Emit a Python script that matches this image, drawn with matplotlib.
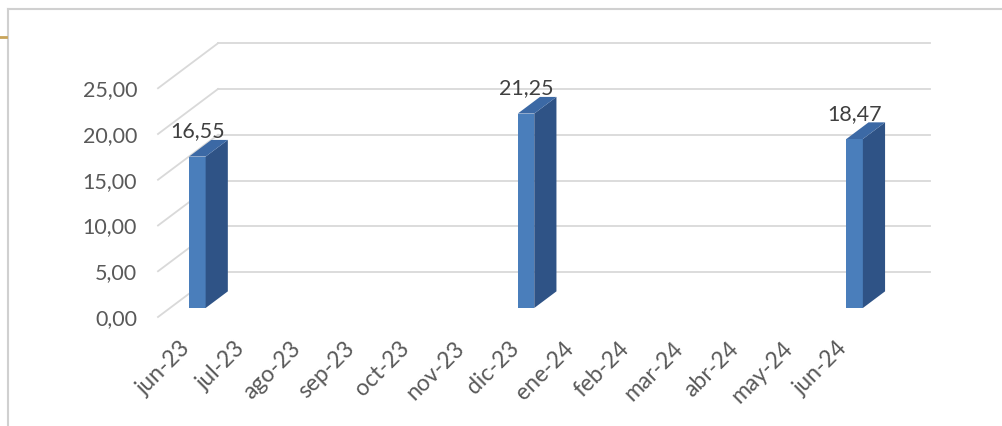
import matplotlib
matplotlib.use("Agg")
import matplotlib.pyplot as plt
from matplotlib.patches import Polygon
from matplotlib.lines import Line2D
from matplotlib.transforms import ScaledTranslation
import numpy as np

# ---- data ----
categories = ["jun-23", "jul-23", "ago-23", "sep-23", "oct-23", "nov-23", "dic-23",
              "ene-24", "feb-24", "mar-24", "abr-24", "may-24", "jun-24"]
values = [16.55, None, None, None, None, None, 21.25, None, None, None, None, None, 18.47]
y_ticks = [0, 5, 10, 15, 20, 25]
y_tick_labels = ["0,00", "5,00", "10,00", "15,00", "20,00", "25,00"]

def fmt(v):
    return f"{v:.2f}".replace(".", ",")

# ---- style ----
W, H = 1003, 426
FONT = ["Lato", "DejaVu Sans"]
plt.rcParams["font.family"] = FONT
FRONT = "#4a7ebb"
SIDE = "#2f5386"
TOP = "#3c69a5"
GRID = "#d9d9d9"
TXT = "#595959"

fig = plt.figure(figsize=(W / 100, H / 100), dpi=100)
fig.patch.set_facecolor("white")

# frame decorations
fig.add_artist(Line2D([8 / W, 1], [1 - 9 / H, 1 - 9 / H], color="#d0d0d0", lw=1.5))
fig.add_artist(Line2D([8 / W, 8 / W], [0, 1 - 9 / H], color="#d0d0d0", lw=1.5))
fig.add_artist(Line2D([0, 6 / W], [1 - 37 / H, 1 - 37 / H], color="#c8a45a", lw=2))

# front plane of the plot: px 158..870 horizontally, value 0 at y=317 px
PX_CAT = 712 / 13
PX_VAL = 9.15
ax = fig.add_axes([158 / W, (H - 317) / H, 712 / W, 25 * PX_VAL / H])
ax.set_xlim(-0.5, len(categories) - 0.5)
ax.set_ylim(0, 25)
ax.set_facecolor("none")
for s in ax.spines.values():
    s.set_visible(False)

# depth vector (front plane -> back wall) in data units
DX = 60 / PX_CAT
DY = 45 / PX_VAL

# back wall gridlines and left wall diagonals
x0, x1 = -0.5, len(categories) - 0.5
for v in y_ticks:
    ax.plot([x0 + DX, x1 + DX], [v + DY, v + DY], color=GRID, lw=1.3, clip_on=False, zorder=1)
    ax.plot([x0, x0 + DX], [v, v + DY], color=GRID, lw=1.3, clip_on=False, zorder=1)

# bars
d0, d1 = 0.2, 0.57
w = 16.5 / PX_CAT
ddx, ddy = (d1 - d0) * DX, (d1 - d0) * DY
idx = [i for i, v in enumerate(values) if v is not None]
vals = [values[i] for i in idx]
xc = np.array(idx) + d0 * DX
base = d0 * DY
ax.bar(xc, vals, width=w, bottom=base, color=FRONT, edgecolor="none", zorder=3, clip_on=False)
for x, v in zip(xc, vals):
    top = base + v
    xr = x + w / 2
    xl = x - w / 2
    ax.add_patch(Polygon([(xr, base), (xr + ddx, base + ddy), (xr + ddx, top + ddy), (xr, top)],
                         closed=True, facecolor=SIDE, edgecolor="none", zorder=3, clip_on=False))
    ax.add_patch(Polygon([(xl, top), (xl + ddx, top + ddy), (xr + ddx, top + ddy), (xr, top)],
                         closed=True, facecolor=TOP, edgecolor="none", zorder=3, clip_on=False))
    ax.annotate(fmt(v), (x, top), xytext=(0, 18), textcoords="offset points",
                ha="center", va="center", fontsize=15.5, color="#404040", zorder=5,
                annotation_clip=False)

# y tick labels
ax.set_yticks(y_ticks)
ax.set_yticklabels(y_tick_labels, fontsize=15.5, color=TXT)
ax.tick_params(axis="y", length=0, pad=15)

# x tick labels (rotated, at the front plane)
ax.set_xticks(range(len(categories)))
ax.set_xticklabels(categories, fontsize=16.5, color=TXT, rotation=45, ha="right",
                   rotation_mode="anchor")
ax.tick_params(axis="x", length=0, pad=15)
off = ScaledTranslation(-4 / 72, 0, fig.dpi_scale_trans)
for lab in ax.get_xticklabels():
    lab.set_transform(lab.get_transform() + off)

fig.savefig("out.png", dpi=100, facecolor="white")
